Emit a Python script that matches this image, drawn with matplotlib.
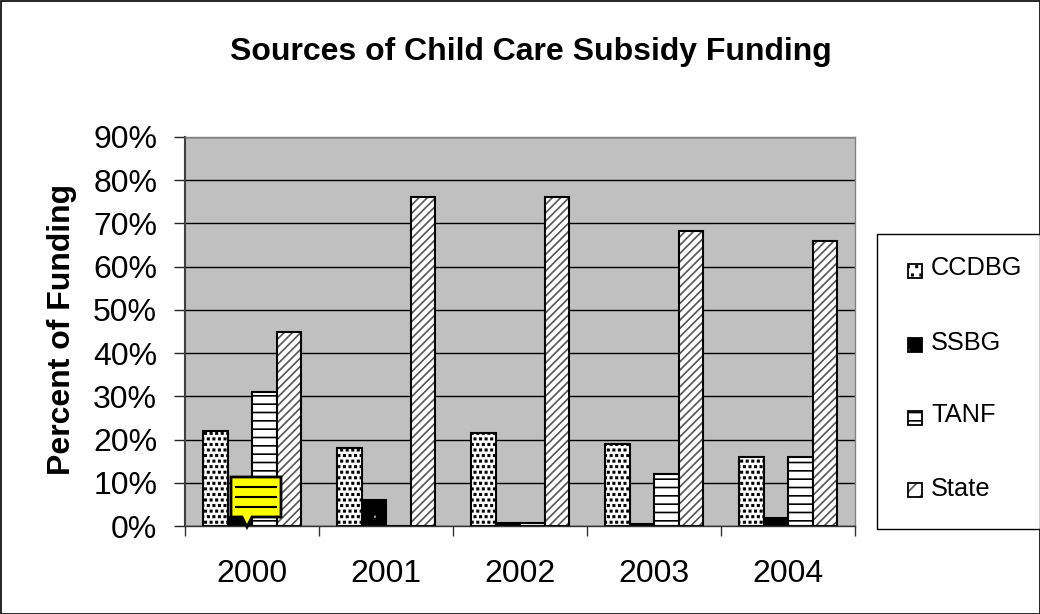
import matplotlib
matplotlib.use("Agg")
import matplotlib.pyplot as plt
import matplotlib.hatch as mhatch
from matplotlib.colors import to_rgba
from matplotlib.patches import Polygon, Rectangle
import numpy as np

plt.rcParams['font.family'] = ['Liberation Sans', 'DejaVu Sans']

years = ['2000', '2001', '2002', '2003', '2004']
ccdbg = [22, 18, 21.5, 19, 16]
ssbg = [2, 6, 0.7, 0.4, 1.8]
tanf = [31, 0, 0.7, 12, 16]
state = [44.8, 76.2, 76.2, 68.2, 66]
yticks = [0, 10, 20, 30, 40, 50, 60, 70, 80, 90]
series_names = ['CCDBG', 'SSBG', 'TANF', 'State']


class SquareDots(mhatch.Shapes):
    """Staggered filled squares, replacing the star hatch."""
    filled = True

    def __init__(self, hatch, density):
        count = hatch.count('*')
        self.num_rows = count * density
        half_px = 0.1 if count == 1 else 0.7
        self.size = half_px / 100 * self.num_rows
        self.shape_vertices = np.array([[-1, -1], [1, -1], [1, 1], [-1, 1], [-1, -1]], float)
        self.shape_codes = np.array([1, 2, 2, 2, 79], dtype=mhatch.Path.code_type)
        super().__init__(hatch, density)


mhatch._hatch_types[:] = [t for t in mhatch._hatch_types if t is not mhatch.Stars] + [SquareDots]

W, H = 1040, 614
fig = plt.figure(figsize=(W/100, H/100), dpi=100, facecolor='white')
fig.add_artist(Rectangle((0.5/W, 0.5/H), (W-1)/W, (H-1)/H, transform=fig.transFigure,
                         fill=False, ec='black', lw=1.2))
L, R, T, B = 185, 855, 137, 526
ax = fig.add_axes([L/W, 1-B/H, (R-L)/W, (B-T)/H], facecolor='#c0c0c0')
ax.set_xlim(0, 5)
ax.set_ylim(0, 90)
ax.set_axisbelow(True)
ax.yaxis.grid(True, color='black', lw=1.0)

plt.rcParams['hatch.linewidth'] = 1.2
bar_hatch = ['***', '*', '--', '////']
legend_hatch = ['**', '*', '--', '//']
faces = ['white', 'black', 'white', 'white']
hatch_colors = ['black', 'white', 'black', '#555555']
width = 24.5 / 134
x = np.arange(5)
offset0 = 18 / 134
for i, vals in enumerate([ccdbg, ssbg, tanf, state]):
    bars = ax.bar(x + offset0 + (i + 0.5) * width, vals, width, facecolor=faces[i],
                  edgecolor='black', linewidth=1.5, hatch=bar_hatch[i], label=series_names[i])
    for b in bars:
        b._hatch_color = to_rgba(hatch_colors[i])

ax.set_xticks(np.arange(6))
ax.set_xticklabels([])
ax.set_xticks(x + 0.5, minor=True)
ax.set_xticklabels(years, minor=True, fontsize=23)
ax.tick_params(axis='x', which='major', length=7.5, width=1, color='#333333', direction='out')
ax.tick_params(axis='x', which='minor', length=0, pad=24)
ax.set_yticks(yticks)
ax.set_yticklabels([f'{v}%' for v in yticks], fontsize=23)
ax.tick_params(axis='y', length=8, width=1, color='#222222', pad=12)
for s in ['top', 'right']:
    ax.spines[s].set_color('#808080')
    ax.spines[s].set_linewidth(1)
ax.spines['left'].set_color('#404040')
ax.spines['left'].set_linewidth(1.5)
ax.spines['bottom'].set_color('#333333')
ax.spines['bottom'].set_linewidth(1)

fig.text(531/W, 1-52/H, 'Sources of Child Care Subsidy Funding', fontsize=23, fontweight='bold',
         ha='center', va='center')
fig.text(62/W, 1-329/H, 'Percent of Funding', fontsize=23, fontweight='bold', rotation=90,
         ha='center', va='center')

# legend box
fig.add_artist(Rectangle((877/W, 1-529/H), 163/W, 295/H, transform=fig.transFigure,
                         fc='white', ec='black', lw=1))
leg_text_y = [268, 343, 415, 489]
leg_swatch_y = [271, 345, 418, 490]
for i, name in enumerate(series_names):
    y = leg_swatch_y[i]
    sw = Rectangle((908/W, 1-(y+7)/H), 14/W, 14/H, transform=fig.transFigure,
                   facecolor=faces[i], edgecolor='black', lw=1.3, hatch=legend_hatch[i])
    sw._hatch_color = to_rgba(hatch_colors[i])
    fig.add_artist(sw)
    fig.text(931/W, 1-leg_text_y[i]/H, name, fontsize=18.3, ha='left', va='center')

# yellow comment callout
pts = [(231, 477), (281, 477), (281, 517), (252, 517), (247, 527), (242, 517), (231, 517)]
fig.add_artist(Polygon([(px/W, 1-py/H) for px, py in pts], closed=True, transform=fig.transFigure,
                       fc='#ffff00', ec='black', lw=2, zorder=10))
for ly in [487, 497, 507]:
    fig.add_artist(plt.Line2D([236/W, 276/W], [1-ly/H, 1-ly/H], transform=fig.transFigure,
                              color='black', lw=1.5, zorder=11))

fig.savefig('out.png', dpi=100)
